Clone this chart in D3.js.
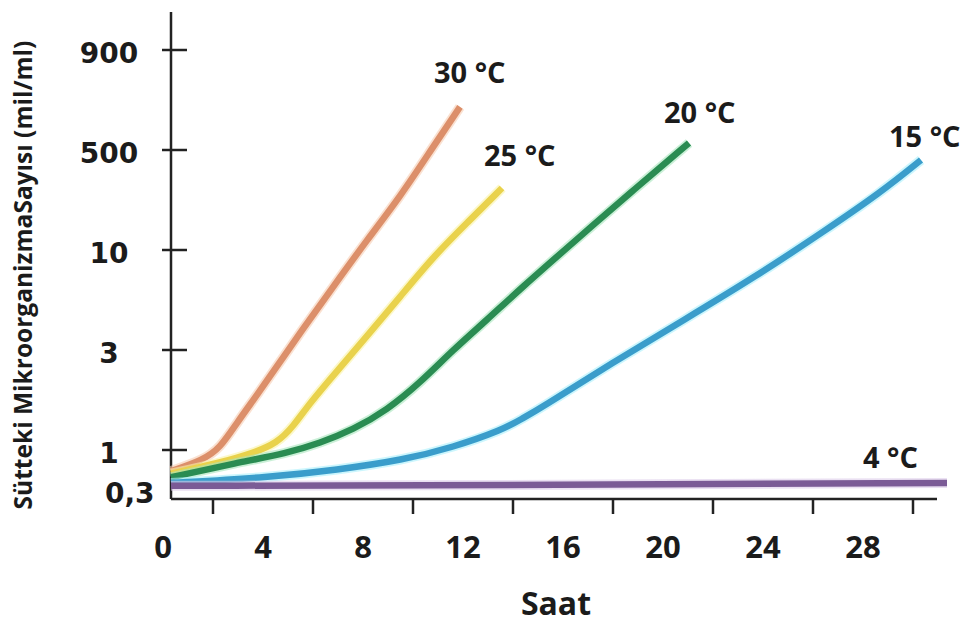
<!DOCTYPE html>
<html>
<head>
<meta charset="utf-8">
<script src="https://cdn.jsdelivr.net/npm/d3@7"></script>
<style>
  body { margin: 0; background: #fff; }
  text { fill: #1b1b1b; font-weight: 700; }
</style>
</head>
<body>
<svg id="chart" width="980" height="626"></svg>
<script>
const width = 980, height = 626

// hours / counts
const hours30 = [0.32, 1.6, 2.28, 2.96, 3.76, 4.68, 5.48, 6.8, 8.16, 9.48, 10.8, 11.88]
const counts30 = [0.53, 0.74, 1.02, 1.35, 1.83, 2.63, 3.68, 6.41, 14.8, 79.5, 509, 644]

const hours25 = [0.32, 2.28, 3.6, 4.56, 5.2, 5.88, 6.96, 8.16, 9.48, 10.8, 12.16, 13.56]
const counts25 = [0.49, 0.68, 0.91, 1.08, 1.29, 1.68, 2.38, 3.55, 5.68, 9.19, 28.8, 113]

const hours20 = [0.32, 2.96, 4.96, 6.28, 7.6, 8.96, 10.28, 11.6, 12.96, 14.28, 16.52, 18.68, 21.04]
const counts20 = [0.44, 0.68, 0.91, 1.08, 1.25, 1.55, 2.09, 3, 4.31, 6.25, 14.8, 93, 521]

const hours15 = [0.32, 4.28, 6.96, 9.6, 11.6, 13.6, 14.36, 15.12, 17.96, 20.84, 23.68, 26.52, 28.68, 30.32]
const counts15 = [0.37, 0.44, 0.55, 0.74, 1.03, 1.25, 1.41, 1.59, 2.6, 4.31, 7.22, 21.9, 93, 338]

const hours4 = [0.32, 15.88, 31.36]
const counts4 = [0.34, 0.35, 0.37]

const seriesNames = ['30 °C', '25 °C', '20 °C', '15 °C', '4 °C']

const xTickValues = [2, 6, 10, 14, 18, 22, 26, 30]
const xLabelValues = [0, 4, 8, 12, 16, 20, 24, 28]
const yTickValues = [1, 3, 10, 500, 900]
const yLabelValues = [0.3, 1, 3, 10, 500, 900]
const yLabelTexts = ['0,3', '1', '3', '10', '500', '900']

const styles = [
  { color: '#dc8f6a', halo: '#f6cdb2', dx: -26, dy: -24 },
  { color: '#e9d24c', halo: '#faf3a6', dx: -18, dy: -22 },
  { color: '#2a8c52', halo: '#a6e6bc', dx: -25, dy: -20 },
  { color: '#3a9dcb', halo: '#aaf0fb', dx: -32, dy: -13 },
  { color: '#7b5b96', halo: '#dccbea', dx: -84, dy: -15 }
]

const series = [
  d3.zip(hours30, counts30),
  d3.zip(hours25, counts25),
  d3.zip(hours20, counts20),
  d3.zip(hours15, counts15),
  d3.zip(hours4, counts4)
]

const axisX = 171, axisTop = 12, axisBottom = 499, axisRight = 937

const x = d3.scaleLinear()
  .domain([0, 28])
  .range([163, 863])

// the axis is not even: each labelled step gets the same height
const y = d3.scaleLog()
  .domain([0.3, 1, 3, 10, 500, 900])
  .range([490, 450, 350, 250, 150, 50])

const svg = d3.select('#chart')

// axes
svg.append('line')
  .attr('x1', axisX).attr('x2', axisX)
  .attr('y1', axisTop).attr('y2', axisBottom)
  .attr('stroke', '#222').attr('stroke-width', 2.5)

svg.append('line')
  .attr('x1', axisX).attr('x2', axisRight)
  .attr('y1', axisBottom).attr('y2', axisBottom)
  .attr('stroke', '#222').attr('stroke-width', 2.5)

svg.selectAll('.ytick')
  .data(yTickValues)
  .join('line')
  .attr('class', 'ytick')
  .attr('x1', axisX - 9).attr('x2', axisX + 16)
  .attr('y1', d => y(d)).attr('y2', d => y(d))
  .attr('stroke', '#222').attr('stroke-width', 2.5)

svg.selectAll('.xtick')
  .data(xTickValues)
  .join('line')
  .attr('class', 'xtick')
  .attr('x1', d => x(d)).attr('x2', d => x(d))
  .attr('y1', axisBottom).attr('y2', axisBottom + 15)
  .attr('stroke', '#222').attr('stroke-width', 2.5)

svg.selectAll('.ylabel')
  .data(yLabelValues)
  .join('text')
  .attr('class', 'ylabel')
  .attr('x', d => d === 0.3 ? 105 : 109)
  .attr('y', d => y(d) + 13)
  .attr('text-anchor', d => d === 0.3 ? 'start' : 'middle')
  .attr('font-family', 'DejaVu Sans')
  .attr('font-size', 28)
  .text((d, i) => yLabelTexts[i])

svg.selectAll('.xlabel')
  .data(xLabelValues)
  .join('text')
  .attr('class', 'xlabel')
  .attr('x', d => x(d))
  .attr('y', 558)
  .attr('text-anchor', 'middle')
  .attr('font-family', 'Open Sans')
  .attr('font-size', 31)
  .text(d => d)

svg.append('text')
  .attr('x', 556).attr('y', 615)
  .attr('text-anchor', 'middle')
  .attr('font-family', 'Open Sans')
  .attr('font-size', 32)
  .text('Saat')

svg.append('text')
  .attr('transform', 'translate(32,275) rotate(-90)')
  .attr('text-anchor', 'middle')
  .attr('font-family', 'Open Sans')
  .attr('font-size', 24.5)
  .text('Sütteki MikroorganizmaSayısı (mil/ml)')

// curves
const line = d3.line()
  .x(d => x(d[0]))
  .y(d => y(d[1]))
  .curve(d3.curveBasis)

const curves = svg.append('g')

series.forEach((s, i) => {
  curves.append('path')
    .attr('d', line(s))
    .attr('fill', 'none')
    .attr('stroke', styles[i].halo)
    .attr('stroke-width', 10)
    .attr('stroke-opacity', 0.6)
  curves.append('path')
    .attr('d', line(s))
    .attr('fill', 'none')
    .attr('stroke', styles[i].color)
    .attr('stroke-width', 6.5)
})

svg.selectAll('.series-label')
  .data(series)
  .join('text')
  .attr('class', 'series-label')
  .attr('x', (s, i) => x(s[s.length - 1][0]) + styles[i].dx)
  .attr('y', (s, i) => y(s[s.length - 1][1]) + styles[i].dy)
  .attr('font-family', 'Open Sans')
  .attr('font-size', 29)
  .text((s, i) => seriesNames[i])
</script>
</body>
</html>
